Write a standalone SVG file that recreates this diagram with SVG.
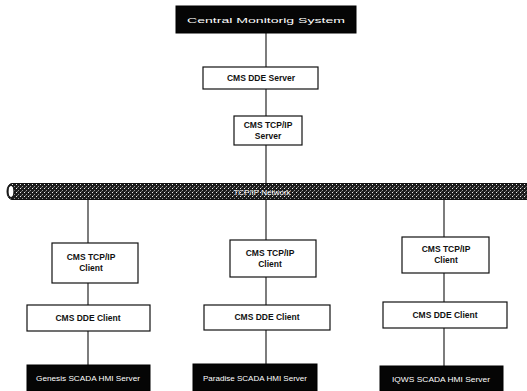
<svg xmlns="http://www.w3.org/2000/svg" width="527" height="391" viewBox="0 0 527 391">
<style>
.box{fill:#fff;stroke:#111;stroke-width:1.2}
.dark{fill:#050505;stroke:#000}
.lbl{font-family:"Liberation Sans",Arial,sans-serif;font-weight:bold;font-size:8.5px;fill:#111;text-anchor:middle}
.wlbl{font-family:"Liberation Sans",Arial,sans-serif;font-size:8px;fill:#fff;text-anchor:middle}
.conn line{stroke:#111;stroke-width:1.1}
</style>
<defs>
<pattern id="ht" width="4" height="4" patternUnits="userSpaceOnUse">
<rect width="4" height="4" fill="#1c1c1c"/>
<rect x="0" y="0" width="1" height="1" fill="#eee"/>
<rect x="2" y="2" width="1" height="1" fill="#999"/>
<rect x="1" y="3" width="1" height="1" fill="#666"/>
</pattern>
</defs>
<g id="connectors" class="conn">
<line x1="266" y1="33" x2="266" y2="67"/>
<line x1="266" y1="89" x2="266" y2="116"/>
<line x1="266" y1="145" x2="266" y2="184"/>
<line x1="88" y1="199" x2="88" y2="243"/>
<line x1="88" y1="283" x2="88" y2="305"/>
<line x1="88" y1="331" x2="88" y2="365"/>
<line x1="266" y1="199" x2="266" y2="240"/>
<line x1="266" y1="277" x2="266" y2="305"/>
<line x1="266" y1="330" x2="266" y2="364"/>
<line x1="444" y1="199" x2="444" y2="237"/>
<line x1="444" y1="273" x2="444" y2="302"/>
<line x1="444" y1="328" x2="444" y2="366"/>
</g>
<g id="cms">
<rect class="dark" x="176" y="6" width="180" height="27"/>
<text class="wlbl" x="266" y="23" font-size="11" textLength="158" lengthAdjust="spacingAndGlyphs">Central Monitorig System</text>
</g>
<g id="dde-server">
<rect class="box" x="203" y="67" width="115" height="22"/>
<text class="lbl" x="261" y="81">CMS DDE Server</text>
</g>
<g id="tcp-server">
<rect class="box" x="234" y="116" width="68" height="29"/>
<text class="lbl" x="268" y="128">CMS TCP/IP</text>
<text class="lbl" x="268" y="139">Server</text>
</g>
<g id="network">
<path d="M12 183.5 H527 V199.5 H12 A5 8 0 0 1 12 183.5 Z" fill="url(#ht)" stroke="#111" stroke-width="1"/>
<ellipse cx="11" cy="191.5" rx="3" ry="6" fill="#fff" stroke="#111" stroke-width="1.2"/>
<text class="wlbl" x="262" y="194.5" font-size="7" fill="#ccc">TCP/IP Network</text>
</g>
<g id="tcp-client-1">
<rect class="box" x="52" y="243" width="86" height="40"/>
<text class="lbl" x="91" y="260">CMS TCP/IP</text>
<text class="lbl" x="91" y="271">Client</text>
</g>
<g id="dde-client-1">
<rect class="box" x="27" y="305" width="123" height="26"/>
<text class="lbl" x="88" y="321">CMS DDE Client</text>
</g>
<g id="hmi-1">
<rect class="dark" x="27" y="365" width="123" height="26"/>
<text class="wlbl" x="88" y="381" textLength="104" lengthAdjust="spacingAndGlyphs">Genesis SCADA HMI Server</text>
</g>
<g id="tcp-client-2">
<rect class="box" x="230" y="240" width="86" height="37"/>
<text class="lbl" x="270" y="256">CMS TCP/IP</text>
<text class="lbl" x="270" y="267">Client</text>
</g>
<g id="dde-client-2">
<rect class="box" x="204" y="305" width="126" height="25"/>
<text class="lbl" x="267" y="320">CMS DDE Client</text>
</g>
<g id="hmi-2">
<rect class="dark" x="193" y="364" width="124" height="27"/>
<text class="wlbl" x="255" y="381" textLength="104" lengthAdjust="spacingAndGlyphs">Paradise SCADA HMI Server</text>
</g>
<g id="tcp-client-3">
<rect class="box" x="402" y="237" width="87" height="36"/>
<text class="lbl" x="446" y="252">CMS TCP/IP</text>
<text class="lbl" x="446" y="263">Client</text>
</g>
<g id="dde-client-3">
<rect class="box" x="383" y="302" width="124" height="26"/>
<text class="lbl" x="445" y="318">CMS DDE Client</text>
</g>
<g id="hmi-3">
<rect class="dark" x="380" y="366" width="123" height="25"/>
<text class="wlbl" x="441" y="382" textLength="98" lengthAdjust="spacingAndGlyphs">IQWS SCADA HMI Server</text>
</g>
</svg>
